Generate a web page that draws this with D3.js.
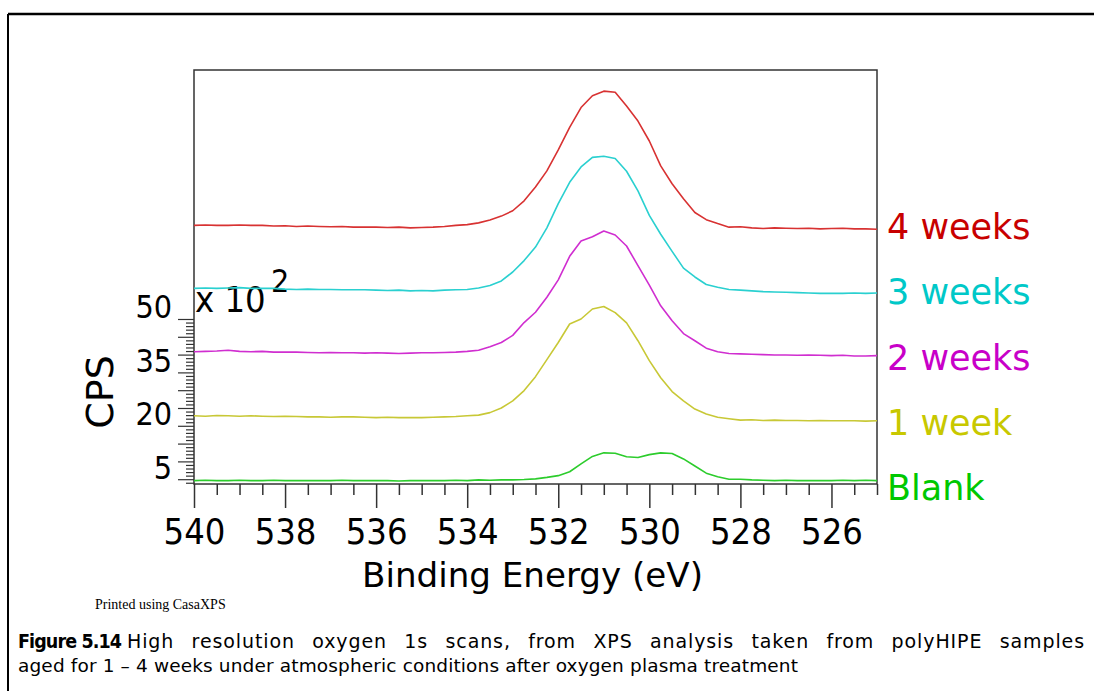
<!DOCTYPE html>
<html><head><meta charset="utf-8">
<script src="https://cdn.jsdelivr.net/npm/d3@7"></script>
<style>html,body{margin:0;padding:0;background:#fff;} svg{display:block;}</style>
</head><body>
<svg id="chart" width="1094" height="691"></svg>
<script>
// Binding energy grid (eV)
const energies = [540,539.75,539.5,539.25,539,538.75,538.5,538.25,538,537.75,537.5,537.25,537,536.75,536.5,536.25,536,535.75,535.5,535.25,535,534.75,534.5,534.25,534,533.75,533.5,533.25,533,532.75,532.5,532.25,532,531.75,531.5,531.25,531,530.75,530.5,530.25,530,529.75,529.5,529.25,529,528.75,528.5,528.25,528,527.75,527.5,527.25,527,526.75,526.5,526.25,526,525.75,525.5,525.25,525];
// CPS x 10^2 (offset as printed)
const blank = [4.6,4.7,4.6,4.6,4.7,4.6,4.6,4.7,4.6,4.6,4.6,4.6,4.6,4.7,4.6,4.6,4.6,4.6,4.5,4.6,4.6,4.6,4.6,4.7,4.6,4.8,4.7,4.8,4.8,4.9,5.1,5.5,6.0,7.1,9.3,11.4,12.4,12.3,11.3,11.1,11.9,12.4,12.2,10.7,8.7,6.7,5.7,5.0,5.0,4.8,4.7,4.6,4.7,4.6,4.6,4.6,4.6,4.7,4.6,4.7,4.6];
const week1 = [22.8,22.7,22.9,22.8,22.7,22.8,22.7,22.6,22.7,22.6,22.5,22.5,22.4,22.5,22.5,22.4,22.3,22.4,22.3,22.3,22.3,22.4,22.5,22.6,22.8,23.0,23.7,25.0,27.0,29.9,33.8,38.6,43.4,48.6,50.0,52.8,53.5,51.8,48.9,43.9,38.3,33.5,29.6,27.0,24.7,23.3,22.4,22.0,21.6,21.7,21.5,21.6,21.5,21.5,21.4,21.5,21.4,21.4,21.4,21.3,21.4];
const weeks2 = [40.8,40.9,41.0,41.2,40.9,40.8,40.9,40.7,40.7,40.7,40.6,40.5,40.6,40.5,40.5,40.4,40.5,40.4,40.3,40.4,40.5,40.5,40.6,40.7,40.9,41.2,42.2,43.4,45.4,49.0,51.9,56.1,61.0,67.6,71.9,73.1,74.7,73.6,70.5,65.0,59.5,53.7,49.5,45.9,43.9,41.8,40.8,40.3,40.2,40.1,40.0,39.9,39.9,39.8,39.9,39.8,39.7,39.8,39.6,39.6,39.7];
const weeks3 = [58.6,58.7,58.6,58.7,58.8,58.6,58.6,58.6,58.4,58.3,58.4,58.3,58.3,58.2,58.2,58.2,58.1,58.0,58.1,57.9,58.0,57.9,58.1,58.2,58.3,58.7,59.4,60.7,63.2,66.4,70.2,75.6,82.4,88.4,92.7,95.4,95.7,95.1,91.5,86.0,79.1,73.8,69.0,64.3,61.8,59.7,58.9,58.3,58.1,57.9,57.7,57.6,57.5,57.4,57.3,57.2,57.2,57.2,57.3,57.2,57.3];
const weeks4 = [76.3,76.4,76.3,76.3,76.4,76.3,76.3,76.1,76.2,76.0,76.1,76.0,75.9,76.0,75.8,75.8,75.8,75.7,75.8,75.6,75.7,75.8,76.0,76.3,76.5,77.0,77.8,78.9,80.4,83.2,87.1,91.6,97.5,103.8,109.4,112.7,114.0,113.7,109.8,105.6,100.0,93.0,88.0,83.8,79.9,77.9,76.8,75.8,75.9,75.6,75.4,75.6,75.5,75.4,75.5,75.3,75.4,75.5,75.3,75.3,75.2];
const seriesNames = ["Blank","1 week","2 weeks","3 weeks","4 weeks"];
const seriesValues = [blank, week1, weeks2, weeks3, weeks4];
const lineColors = ["#2ccc2c","#c8c836","#d02ed0","#2ad0d0","#d83232"];
const labelColors = ["#00c800","#c8c800","#c800c8","#00c8c8","#c80000"];
const xTickLabels = [540,538,536,534,532,530,528,526];
const yTickLabels = [5,20,35,50];

const svg = d3.select("#chart");
const W = 1094, H = 691;
const plot = {left:194, right:877, top:70, bottom:484};

// outer border (top and left visible)
svg.append("line").attr("x1",8).attr("y1",14).attr("x2",W).attr("y2",14).attr("stroke","#000").attr("stroke-width",2.5);
svg.append("line").attr("x1",8).attr("y1",14).attr("x2",8).attr("y2",H).attr("stroke","#000").attr("stroke-width",2);

const x = d3.scaleLinear().domain([540,525]).range([plot.left, plot.right]);
const y = d3.scaleLinear().domain([3.65,119.94]).range([plot.bottom, plot.top]);

const condFont = "'DejaVu Sans Condensed','DejaVu Sans',sans-serif";
const wideFont = "'DejaVu Sans',Verdana,sans-serif";

// frame
svg.append("rect").attr("x",plot.left).attr("y",plot.top)
  .attr("width",plot.right-plot.left).attr("height",plot.bottom-plot.top)
  .attr("fill","none").attr("stroke","#333").attr("stroke-width",1.5);

// x axis
const xMinor = d3.range(540, 524.99, -0.5);
const xAxis = d3.axisBottom(x).tickValues(xMinor).tickSizeOuter(0)
  .tickFormat(d => xTickLabels.includes(d) ? d : "");
const gx = svg.append("g").attr("transform",`translate(0,${plot.bottom})`).call(xAxis);
gx.select(".domain").remove();
gx.selectAll(".tick line").attr("y2", d => xTickLabels.includes(d) ? 24 : 11)
  .attr("stroke","#333").attr("stroke-width",1.5);
gx.selectAll(".tick text").attr("y",60).attr("dy",0)
  .attr("font-family",condFont).attr("font-size",36).attr("fill","#000");

// y axis
const yMinor = d3.range(4, 51, 1);
const yAxis = d3.axisLeft(y).tickValues(yMinor).tickSizeOuter(0)
  .tickFormat(d => yTickLabels.includes(d) ? d : "");
const gy = svg.append("g").attr("transform",`translate(${plot.left},0)`).call(yAxis);
gy.select(".domain").remove();
gy.selectAll(".tick line").attr("x2", d => d % 5 === 0 ? -16 : -8)
  .attr("stroke","#333").attr("stroke-width",1.2);
gy.selectAll(".tick text").attr("x",-22).attr("y",-1).attr("dy",0)
  .attr("font-family",condFont).attr("font-size",32).attr("fill","#000");

// multiplier label
svg.append("text").attr("x",195).attr("y",312)
  .attr("font-family",condFont).attr("font-size",36).attr("fill","#000").text("x 10");
svg.append("text").attr("x",271).attr("y",292)
  .attr("font-family",condFont).attr("font-size",32).attr("fill","#000").text("2");

// axis titles
svg.append("text").attr("x",362).attr("y",587)
  .attr("font-family",wideFont).attr("font-size",33).attr("fill","#000")
  .attr("textLength",341).attr("lengthAdjust","spacingAndGlyphs").text("Binding Energy (eV)");
svg.append("text").attr("transform","translate(113,392) rotate(-90)").attr("text-anchor","middle")
  .attr("font-family",wideFont).attr("font-size",38).attr("fill","#000").text("CPS");

// series lines
const line = d3.line().x((d,i) => x(energies[i])).y(d => y(d));
seriesValues.forEach((vals, k) => {
  svg.append("path").datum(vals).attr("d", line)
    .attr("fill","none").attr("stroke", lineColors[k]).attr("stroke-width",1.6)
    .attr("stroke-linejoin","round");
});

// series labels
const ly = d3.scalePoint().domain(seriesNames).range([500, 239]);
seriesNames.forEach((n,k) => {
  svg.append("text").attr("x",887).attr("y",ly(n))
    .attr("font-family",wideFont).attr("font-size",35)
    .attr("fill",labelColors[k]).text(n);
});

// footer
svg.append("text").attr("x",95).attr("y",609)
  .attr("font-family","'Liberation Serif','Times New Roman',serif").attr("font-size",14)
  .attr("fill","#000").text("Printed using CasaXPS");

// caption: first line justified (bold label, then text)
svg.append("text").attr("x",18).attr("y",648)
  .attr("font-family",condFont).attr("font-weight","bold").attr("font-size",19.5).attr("fill","#000")
  .attr("textLength",104).attr("lengthAdjust","spacing").text("Figure 5.14");
const cap1 = svg.append("text").attr("x",127).attr("y",648)
  .attr("font-family",wideFont).attr("font-size",19).attr("fill","#000")
  .style("letter-spacing","0.9px")
  .text("High resolution oxygen 1s scans, from XPS analysis taken from polyHIPE samples");
const natural = cap1.node().getComputedTextLength();
cap1.style("word-spacing", Math.max(0,(1085 - 127 - natural)/11) + "px");

svg.append("text").attr("x",18).attr("y",672)
  .attr("font-family",wideFont).attr("font-size",18.5).attr("fill","#000")
  .attr("textLength",780).attr("lengthAdjust","spacing")
  .text("aged for 1 \u2013 4 weeks under atmospheric conditions after oxygen plasma treatment");
</script>
</body></html>
